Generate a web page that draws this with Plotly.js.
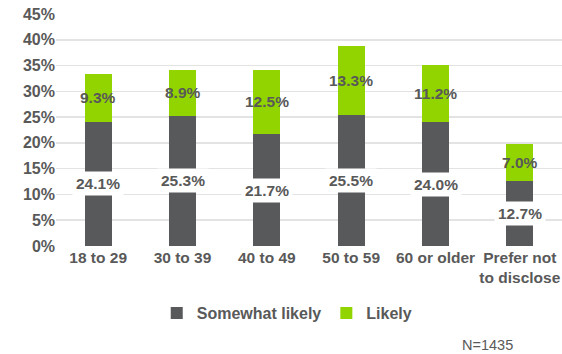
<!DOCTYPE html>
<html><head><meta charset="utf-8">
<script src="https://cdn.plot.ly/plotly-3.0.1.min.js"></script>
<style>html,body{margin:0;padding:0;background:#fff}#c{width:562px;height:354px}</style>
</head><body><div id="c"></div>
<script>
const categories = ["18 to 29","30 to 39","40 to 49","50 to 59","60 or older","Prefer not<br>to disclose"];
const somewhatLikely = [24.1, 25.3, 21.7, 25.5, 24.0, 12.7];
const likely = [9.3, 8.9, 12.5, 13.3, 11.2, 7.0];
const tickVals = [0,5,10,15,20,25,30,35,40,45];
const tickText = ["0%","5%","10%","15%","20%","25%","30%","35%","40%","45%"];
const seriesNames = ["Somewhat likely","Likely"];
const noteText = "N=1435";

const gray = "#58595b", green = "#92d400", txt = "#595959";
const font = {family:"Liberation Sans, Arial, sans-serif", size:16, color:txt};

const traces = [
  {type:"bar", name:"<b>"+seriesNames[0]+"</b>", x:categories, y:somewhatLikely, marker:{color:gray}, hoverinfo:"none"},
  {type:"bar", name:"<b>"+seriesNames[1]+"</b>", x:categories, y:likely, marker:{color:green}, hoverinfo:"none"}
];
const W=562,H=354,L=56,R=0,T=14,B=108;
const ann = [];
categories.forEach((c,i)=>{
  ann.push({x:c, y:somewhatLikely[i]/2, xref:"x", yref:"y", text:"<b>"+somewhatLikely[i].toFixed(1)+"%</b>",
    showarrow:false, bgcolor:"#ffffff", borderpad:3, font:{...font, size:15.5}});
  ann.push({x:c, y:somewhatLikely[i]+likely[i]/2, xref:"x", yref:"y", text:"<b>"+likely[i].toFixed(1)+"%</b>",
    showarrow:false, font:{...font, size:15.5}});
});
ann.push({x:(487-L)/(W-L-R), y:(H-B-345)/(H-T-B), xref:"paper", yref:"paper", xanchor:"center", yanchor:"middle",
  text:noteText, showarrow:false, font:{family:font.family, size:14.5, color:txt}});

const layout = {
  width:W, height:H, margin:{l:L,r:R,t:T,b:B},
  barmode:"stack", bargap:0.68,
  paper_bgcolor:"#fff", plot_bgcolor:"#fff",
  font:font,
  xaxis:{tickfont:{...font, size:15.5}, tickangle:0, ticks:"", showline:false, showgrid:false, zeroline:false,
    tickprefix:"<b>", ticksuffix:"</b>", automargin:false},
  yaxis:{range:[0,45], tickvals:tickVals, ticktext:tickText.map(t=>"<b>"+t+"</b>"),
    tickfont:{...font}, gridcolor:"#e3e3e3", gridwidth:1.5, zeroline:false, showline:false,
    ticks:"", automargin:false, fixedrange:true},
  showlegend:true,
  legend:{orientation:"h", x:0.457, xanchor:"center", y:(H-B-313)/(H-T-B), yanchor:"middle",
    font:{...font}, traceorder:"normal", itemwidth:30},
  annotations:ann
};
Plotly.newPlot("c", traces, layout, {displayModeBar:false, staticPlot:true});
</script></body></html>
